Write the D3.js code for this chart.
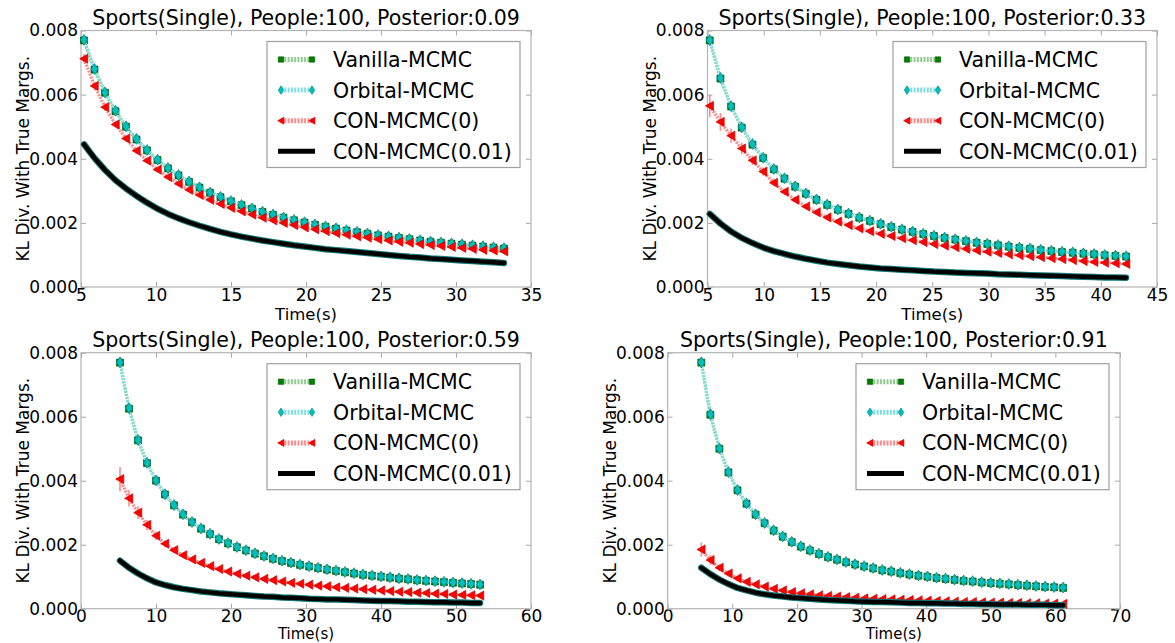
<!DOCTYPE html>
<html><head><meta charset="utf-8">
<script src="https://cdn.jsdelivr.net/npm/d3@7"></script>
<style>
body{margin:0;background:#fff}
svg{display:block}
text{font-family:"DejaVu Sans",sans-serif;fill:#000}
</style>
</head><body>
<svg id="c" width="1175" height="643"></svg>
<script>
// ---------------- DATA (KL values in units of 1e-3) ----------------
const seriesNames = ["Vanilla-MCMC", "Orbital-MCMC", "CON-MCMC(0)", "CON-MCMC(0.01)"];
const yTicks = [0, 0.002, 0.004, 0.006, 0.008];

// Top-left: Posterior 0.09
const titleTL = "Sports(Single), People:100, Posterior:0.09";
const xDomainTL = [5, 35];
const xTicksTL = [5, 10, 15, 20, 25, 30, 35];
const timeTL = [5.2, 5.9, 6.6, 7.3, 8.0, 8.7, 9.4, 10.1, 10.8, 11.5, 12.2, 12.9, 13.6, 14.3, 15.0, 15.7, 16.4, 17.1, 17.8, 18.5, 19.2, 19.9, 20.6, 21.3, 22.0, 22.7, 23.4, 24.1, 24.8, 25.5, 26.2, 26.9, 27.6, 28.3, 29.0, 29.7, 30.4, 31.1, 31.8, 32.5, 33.2];
const vanillaTL = [7.69, 6.78, 6.06, 5.48, 5.00, 4.60, 4.26, 3.96, 3.70, 3.48, 3.28, 3.10, 2.94, 2.80, 2.67, 2.55, 2.44, 2.34, 2.25, 2.16, 2.08, 2.01, 1.94, 1.88, 1.82, 1.76, 1.71, 1.66, 1.61, 1.57, 1.53, 1.49, 1.45, 1.41, 1.38, 1.35, 1.32, 1.29, 1.26, 1.23, 1.20];
const orbitalTL = [7.71, 6.80, 6.07, 5.50, 5.01, 4.62, 4.27, 3.97, 3.71, 3.49, 3.29, 3.11, 2.95, 2.81, 2.68, 2.56, 2.45, 2.35, 2.26, 2.17, 2.09, 2.02, 1.95, 1.89, 1.83, 1.77, 1.72, 1.67, 1.62, 1.58, 1.54, 1.50, 1.46, 1.42, 1.39, 1.36, 1.33, 1.30, 1.27, 1.24, 1.21];
const con0TL = [7.12, 6.27, 5.61, 5.07, 4.63, 4.25, 3.94, 3.66, 3.43, 3.22, 3.03, 2.87, 2.72, 2.59, 2.47, 2.36, 2.26, 2.16, 2.08, 2.00, 1.93, 1.86, 1.80, 1.74, 1.68, 1.63, 1.58, 1.54, 1.49, 1.45, 1.41, 1.38, 1.34, 1.31, 1.28, 1.25, 1.22, 1.19, 1.16, 1.14, 1.11];
const con0ErrTL = [0.15, 0.13, 0.12, 0.10, 0.09, 0.08, 0.07, 0.06, 0.05, 0.05];
const con001TL = [4.45, 4.02, 3.65, 3.33, 3.07, 2.84, 2.63, 2.44, 2.28, 2.14, 2.02, 1.91, 1.81, 1.72, 1.64, 1.57, 1.51, 1.45, 1.40, 1.35, 1.30, 1.26, 1.22, 1.18, 1.15, 1.12, 1.09, 1.06, 1.03, 1.00, 0.97, 0.94, 0.92, 0.89, 0.87, 0.85, 0.83, 0.81, 0.79, 0.77, 0.75];

// Top-right: Posterior 0.33
const titleTR = "Sports(Single), People:100, Posterior:0.33";
const xDomainTR = [5, 45];
const xTicksTR = [5, 10, 15, 20, 25, 30, 35, 40, 45];
const timeTR = [5.2, 6.15, 7.1, 8.05, 9.0, 9.95, 10.9, 11.85, 12.8, 13.75, 14.7, 15.65, 16.6, 17.55, 18.5, 19.45, 20.4, 21.35, 22.3, 23.25, 24.2, 25.15, 26.1, 27.05, 28.0, 28.95, 29.9, 30.85, 31.8, 32.75, 33.7, 34.65, 35.6, 36.55, 37.5, 38.45, 39.4, 40.35, 41.3, 42.25];
const vanillaTR = [7.69, 6.50, 5.63, 4.97, 4.44, 4.02, 3.67, 3.38, 3.13, 2.91, 2.72, 2.56, 2.41, 2.28, 2.16, 2.06, 1.96, 1.87, 1.79, 1.72, 1.65, 1.59, 1.53, 1.48, 1.43, 1.38, 1.34, 1.30, 1.26, 1.22, 1.19, 1.15, 1.12, 1.09, 1.07, 1.04, 1.02, 0.99, 0.97, 0.95];
const orbitalTR = [7.70, 6.52, 5.64, 4.98, 4.46, 4.03, 3.68, 3.39, 3.14, 2.92, 2.73, 2.57, 2.42, 2.29, 2.17, 2.07, 1.97, 1.88, 1.80, 1.73, 1.66, 1.60, 1.54, 1.49, 1.44, 1.39, 1.35, 1.31, 1.27, 1.23, 1.20, 1.16, 1.13, 1.10, 1.08, 1.05, 1.03, 1.00, 0.98, 0.96];
const con0TR = [5.65, 5.15, 4.72, 4.32, 3.95, 3.60, 3.25, 2.97, 2.72, 2.51, 2.33, 2.17, 2.04, 1.93, 1.83, 1.74, 1.66, 1.59, 1.52, 1.46, 1.40, 1.34, 1.29, 1.24, 1.19, 1.14, 1.10, 1.06, 1.02, 0.99, 0.96, 0.93, 0.90, 0.87, 0.84, 0.81, 0.78, 0.76, 0.74, 0.72];
const con0ErrTR = [0.35, 0.28, 0.22, 0.18, 0.15, 0.13, 0.11, 0.09, 0.08, 0.07];
const con001TR = [2.28, 1.98, 1.73, 1.53, 1.37, 1.23, 1.12, 1.03, 0.95, 0.88, 0.82, 0.76, 0.72, 0.68, 0.64, 0.61, 0.58, 0.56, 0.54, 0.52, 0.50, 0.48, 0.47, 0.45, 0.44, 0.43, 0.42, 0.40, 0.39, 0.38, 0.37, 0.36, 0.35, 0.34, 0.33, 0.32, 0.31, 0.30, 0.30, 0.29];

// Bottom-left: Posterior 0.59
const titleBL = "Sports(Single), People:100, Posterior:0.59";
const xDomainBL = [0, 60];
const xTicksBL = [0, 10, 20, 30, 40, 50, 60];
const timeBL = [5.2, 6.4, 7.6, 8.8, 10.0, 11.2, 12.4, 13.6, 14.8, 16.0, 17.2, 18.4, 19.6, 20.8, 22.0, 23.2, 24.4, 25.6, 26.8, 28.0, 29.2, 30.4, 31.6, 32.8, 34.0, 35.2, 36.4, 37.6, 38.8, 40.0, 41.2, 42.4, 43.6, 44.8, 46.0, 47.2, 48.4, 49.6, 50.8, 52.0, 53.2];
const vanillaBL = [7.69, 6.25, 5.26, 4.55, 4.00, 3.57, 3.23, 2.94, 2.70, 2.50, 2.33, 2.17, 2.04, 1.92, 1.82, 1.72, 1.64, 1.56, 1.49, 1.43, 1.37, 1.32, 1.27, 1.22, 1.18, 1.14, 1.10, 1.06, 1.03, 1.00, 0.97, 0.94, 0.92, 0.89, 0.87, 0.85, 0.83, 0.81, 0.79, 0.77, 0.75];
const orbitalBL = [7.70, 6.27, 5.27, 4.56, 4.01, 3.58, 3.24, 2.95, 2.71, 2.51, 2.34, 2.18, 2.05, 1.93, 1.83, 1.73, 1.65, 1.57, 1.50, 1.44, 1.38, 1.33, 1.28, 1.23, 1.19, 1.15, 1.11, 1.07, 1.04, 1.01, 0.98, 0.95, 0.93, 0.90, 0.88, 0.86, 0.84, 0.82, 0.80, 0.78, 0.76];
const con0BL = [4.05, 3.45, 3.00, 2.62, 2.28, 2.03, 1.83, 1.67, 1.54, 1.43, 1.33, 1.24, 1.16, 1.09, 1.03, 0.98, 0.93, 0.89, 0.85, 0.81, 0.78, 0.75, 0.72, 0.70, 0.67, 0.65, 0.63, 0.61, 0.59, 0.57, 0.55, 0.53, 0.52, 0.50, 0.49, 0.47, 0.46, 0.44, 0.43, 0.42, 0.41];
const con0ErrBL = [0.38, 0.26, 0.20, 0.16, 0.13, 0.11, 0.09, 0.08, 0.07, 0.06];
const con001BL = [1.50, 1.28, 1.10, 0.95, 0.82, 0.74, 0.67, 0.62, 0.58, 0.54, 0.51, 0.48, 0.46, 0.44, 0.42, 0.40, 0.38, 0.37, 0.35, 0.34, 0.33, 0.31, 0.30, 0.29, 0.29, 0.28, 0.27, 0.26, 0.25, 0.24, 0.24, 0.23, 0.22, 0.22, 0.21, 0.20, 0.20, 0.19, 0.19, 0.18, 0.18];

// Bottom-right: Posterior 0.91
const titleBR = "Sports(Single), People:100, Posterior:0.91";
const xDomainBR = [0, 70];
const xTicksBR = [0, 10, 20, 30, 40, 50, 60, 70];
const timeBR = [5.2, 6.6, 8.0, 9.4, 10.8, 12.2, 13.6, 15.0, 16.4, 17.8, 19.2, 20.6, 22.0, 23.4, 24.8, 26.2, 27.6, 29.0, 30.4, 31.8, 33.2, 34.6, 36.0, 37.4, 38.8, 40.2, 41.6, 43.0, 44.4, 45.8, 47.2, 48.6, 50.0, 51.4, 52.8, 54.2, 55.6, 57.0, 58.4, 59.8, 61.2];
const vanillaBR = [7.69, 6.06, 5.00, 4.26, 3.70, 3.28, 2.94, 2.67, 2.44, 2.25, 2.08, 1.94, 1.82, 1.71, 1.61, 1.53, 1.45, 1.38, 1.32, 1.26, 1.20, 1.16, 1.11, 1.07, 1.03, 1.00, 0.96, 0.93, 0.90, 0.87, 0.85, 0.82, 0.80, 0.78, 0.76, 0.74, 0.72, 0.70, 0.68, 0.67, 0.65];
const orbitalBR = [7.70, 6.08, 5.01, 4.27, 3.71, 3.29, 2.95, 2.68, 2.45, 2.26, 2.09, 1.95, 1.83, 1.72, 1.62, 1.54, 1.46, 1.39, 1.33, 1.27, 1.21, 1.17, 1.12, 1.08, 1.04, 1.01, 0.97, 0.94, 0.91, 0.88, 0.86, 0.83, 0.81, 0.79, 0.77, 0.75, 0.73, 0.71, 0.69, 0.68, 0.66];
const con0BR = [1.85, 1.52, 1.28, 1.10, 0.95, 0.84, 0.76, 0.69, 0.62, 0.57, 0.52, 0.48, 0.45, 0.42, 0.40, 0.38, 0.36, 0.34, 0.32, 0.31, 0.30, 0.29, 0.28, 0.27, 0.26, 0.25, 0.24, 0.23, 0.22, 0.21, 0.21, 0.20, 0.19, 0.19, 0.18, 0.18, 0.17, 0.17, 0.16, 0.16, 0.15];
const con0ErrBR = [0.22, 0.15, 0.11, 0.09, 0.07, 0.06, 0.05, 0.04];
const con001BR = [1.28, 1.08, 0.91, 0.77, 0.65, 0.57, 0.50, 0.45, 0.41, 0.38, 0.35, 0.33, 0.31, 0.29, 0.27, 0.26, 0.25, 0.23, 0.22, 0.21, 0.21, 0.20, 0.19, 0.18, 0.18, 0.17, 0.17, 0.16, 0.16, 0.15, 0.15, 0.14, 0.14, 0.13, 0.13, 0.13, 0.12, 0.12, 0.12, 0.11, 0.11];

// ---------------- LAYOUT ----------------
const panels = [
  {title: titleTL, box: [81, 531, 30.5, 287], xDomain: xDomainTL, xTicks: xTicksTL, t: timeTL, s: [vanillaTL, orbitalTL, con0TL, con001TL], err: con0ErrTL, pad: 2, xl: {dy: 33, fs: 16.5}},
  {title: titleTR, box: [707.5, 1157, 30.5, 287], xDomain: xDomainTR, xTicks: xTicksTR, t: timeTR, s: [vanillaTR, orbitalTR, con0TR, con001TR], err: con0ErrTR, pad: 2, xl: {dy: 33, fs: 16.5}},
  {title: titleBL, box: [81, 531, 352.7, 608.7], xDomain: xDomainBL, xTicks: xTicksBL, t: timeBL, s: [vanillaBL, orbitalBL, con0BL, con001BL], err: con0ErrBL, pad: 1, xl: {dy: 30.6, fs: 15}},
  {title: titleBR, box: [667.7, 1120, 352.7, 608.7], xDomain: xDomainBR, xTicks: xTicksBR, t: timeBR, s: [vanillaBR, orbitalBR, con0BR, con001BR], err: con0ErrBR, pad: 1, xl: {dy: 30.6, fs: 15}}
];

const styles = [
  {fill: "#008000", stroke: "#004a00", light: "#8fcc8f", shape: "square"},
  {fill: "#00bfbf", stroke: "#007373", light: "#7fdede", shape: "diamond"},
  {fill: "#ff0000", stroke: "#c00000", light: "#ff8a8a", shape: "tri"}
];

function markerPath(shape, k) {
  if (shape === "square") return `M${-3.5*k},${-3.5*k}h${7*k}v${7*k}h${-7*k}Z`;
  if (shape === "diamond") return `M0,${-5.5*k}L${3.6*k},0L0,${5.5*k}L${-3.6*k},0Z`;
  return `M${-4.4*k},0L${3.8*k},${-4.6*k}L${3.8*k},${4.6*k}Z`;
}

const svg = d3.select("#c");
const TICK = 17, TITLE = 20.5, LEG = 20.5;

panels.forEach(p => {
  const [x0, x1, y0, y1] = p.box;
  const x = d3.scaleLinear().domain(p.xDomain).range([x0, x1]);
  const y = d3.scaleLinear().domain([0, 0.008]).range([y1, y0]);
  const g = svg.append("g");

  const styleAxis = (sel) => {
    sel.select(".domain").remove();
    sel.selectAll(".tick line").attr("stroke", "#a8a8a8");
    sel.selectAll(".tick text").attr("font-size", TICK).attr("font-family", "DejaVu Sans").attr("fill", "#000");
    sel.attr("font-family", null).attr("font-size", null);
  };
  g.append("g").attr("transform", `translate(0,${y1})`)
    .call(d3.axisBottom(x).tickValues(p.xTicks).tickFormat(d3.format("d")).tickSizeInner(-5).tickSizeOuter(0).tickPadding(p.pad))
    .call(styleAxis);
  g.append("g").attr("transform", `translate(0,${y0})`)
    .call(d3.axisTop(x).tickValues(p.xTicks).tickFormat("").tickSizeInner(-5).tickSizeOuter(0))
    .call(styleAxis);
  g.append("g").attr("transform", `translate(${x0},0)`)
    .call(d3.axisLeft(y).tickValues(yTicks).tickFormat(d3.format(".3f")).tickSizeInner(-5).tickSizeOuter(0).tickPadding(3))
    .call(styleAxis);
  g.append("g").attr("transform", `translate(${x1},0)`)
    .call(d3.axisRight(y).tickValues(yTicks).tickFormat("").tickSizeInner(-5).tickSizeOuter(0))
    .call(styleAxis);

  g.append("rect").attr("x", x0).attr("y", y0).attr("width", x1 - x0).attr("height", y1 - y0)
    .attr("fill", "none").attr("stroke", "#b4b4b4").attr("stroke-width", 1.2);

  const line = d3.line().x((d, i) => x(p.t[i])).y(d => y(d * 1e-3));
  [0, 1, 2].forEach(si => {
    const st = styles[si];
    const vals = p.s[si];
    const sg = g.append("g");
    sg.append("path").attr("d", line(vals)).attr("fill", "none")
      .attr("stroke", st.light).attr("stroke-width", 3.2).attr("stroke-dasharray", "2,1.2");
    if (si === 2) {
      p.err.forEach((e, i) => {
        const cx = x(p.t[i]);
        const ya = y((vals[i] - e) * 1e-3), yb = y((vals[i] + e) * 1e-3);
        sg.append("line").attr("x1", cx).attr("x2", cx).attr("y1", ya).attr("y2", yb)
          .attr("stroke", st.light).attr("stroke-width", 1.6);
      });
    }
    sg.selectAll("path.m").data(vals).join("path").attr("class", "m")
      .attr("transform", (d, i) => `translate(${x(p.t[i])},${y(d * 1e-3)})`)
      .attr("d", markerPath(st.shape, 1))
      .attr("fill", st.fill).attr("stroke", st.stroke).attr("stroke-width", 0.6);
  });
  g.append("path").attr("d", line(p.s[3])).attr("fill", "none")
    .attr("stroke", "#167878").attr("stroke-width", 6.5).attr("stroke-linejoin", "round").attr("stroke-linecap", "round");
  g.append("path").attr("d", line(p.s[3])).attr("fill", "none")
    .attr("stroke", "#000").attr("stroke-width", 4.4).attr("stroke-linejoin", "round").attr("stroke-linecap", "round");

  svg.append("text").attr("x", (x0 + x1) / 2).attr("y", y0 - 6).attr("text-anchor", "middle")
    .attr("font-size", TITLE).text(p.title);
  svg.append("text").attr("x", (x0 + x1) / 2).attr("y", y1 + p.xl.dy).attr("text-anchor", "middle")
    .attr("font-size", p.xl.fs).text("Time(s)");
  svg.append("text").attr("transform", `translate(${x0 - 52},${(y0 + y1) / 2}) rotate(-90)`)
    .attr("text-anchor", "middle").attr("font-size", TICK).text("KL Div. With True Margs.");

  const lw = 253, lh = 126;
  const lx = x1 - 11 - lw, ly = y0 + 11;
  const lg = svg.append("g");
  lg.append("rect").attr("x", lx).attr("y", ly).attr("width", lw).attr("height", lh)
    .attr("fill", "#fff").attr("stroke", "#a0a0a0").attr("stroke-width", 1.2);
  seriesNames.forEach((name, i) => {
    const ry = ly + 18 + i * 30.6;
    const ax = lx + 14, bx = lx + 45;
    if (i < 3) {
      const st = styles[i];
      lg.append("line").attr("x1", ax).attr("x2", bx).attr("y1", ry).attr("y2", ry)
        .attr("stroke", st.light).attr("stroke-width", 5).attr("stroke-dasharray", "2,1.3");
      [ax, bx].forEach(mx => lg.append("path").attr("transform", `translate(${mx},${ry})`)
        .attr("d", markerPath(st.shape, 0.78)).attr("fill", st.fill).attr("stroke", st.stroke).attr("stroke-width", 0.5));
    } else {
      lg.append("line").attr("x1", ax - 3).attr("x2", bx + 3).attr("y1", ry).attr("y2", ry)
        .attr("stroke", "#000").attr("stroke-width", 5);
    }
    lg.append("text").attr("x", lx + 66).attr("y", ry + 7.5).attr("font-size", LEG).text(name);
  });
});
</script>
</body></html>
